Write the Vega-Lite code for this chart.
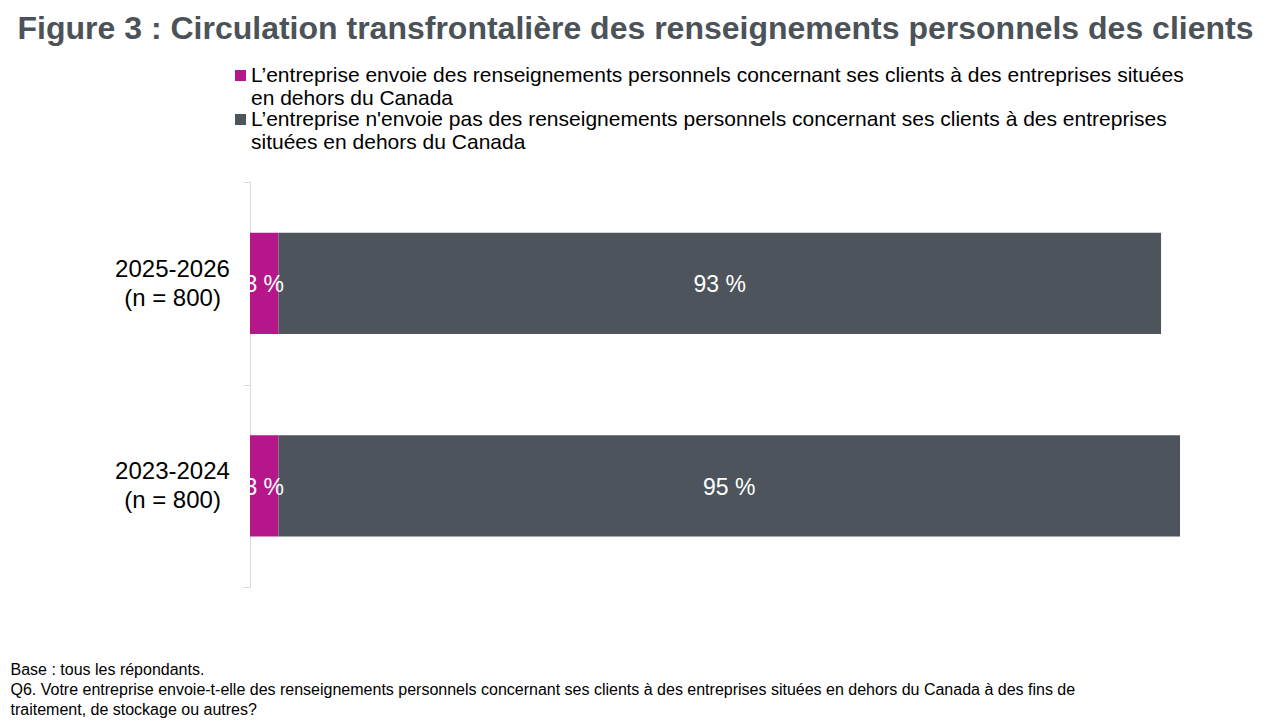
{
  "$schema": "https://vega.github.io/schema/vega-lite/v6.json",
  "width": 949,
  "height": 405,
  "autosize": "none",
  "padding": {"left": 250, "top": 182, "right": 81, "bottom": 133},
  "background": "white",
  "config": {"font": "Liberation Sans", "view": {"stroke": null}},
  "title": {
    "text": "Figure 3 : Circulation transfrontalière des renseignements personnels des clients",
    "font": "Liberation Sans",
    "fontSize": 32,
    "fontWeight": "bold",
    "color": "#4B5258",
    "anchor": "middle",
    "frame": "group",
    "baseline": "alphabetic",
    "dx": -89,
    "offset": -6
  },
  "data": {
    "values": [
      {"groupe": "2025-2026 (n = 800)", "reponse": "L’entreprise envoie des renseignements personnels concernant ses clients à des entreprises situées en dehors du Canada", "rang": 1, "pct": 3},
      {"groupe": "2025-2026 (n = 800)", "reponse": "L’entreprise n'envoie pas des renseignements personnels concernant ses clients à des entreprises situées en dehors du Canada", "rang": 2, "pct": 93},
      {"groupe": "2023-2024 (n = 800)", "reponse": "L’entreprise envoie des renseignements personnels concernant ses clients à des entreprises situées en dehors du Canada", "rang": 1, "pct": 3},
      {"groupe": "2023-2024 (n = 800)", "reponse": "L’entreprise n'envoie pas des renseignements personnels concernant ses clients à des entreprises situées en dehors du Canada", "rang": 2, "pct": 95}
    ]
  },
  "transform": [
    {"stack": "pct", "groupby": ["groupe"], "sort": [{"field": "rang", "order": "ascending"}], "as": ["debut", "fin"]}
  ],
  "encoding": {
    "y": {
      "field": "groupe",
      "type": "nominal",
      "sort": ["2025-2026 (n = 800)", "2023-2024 (n = 800)"],
      "scale": {"paddingInner": 0, "paddingOuter": 0},
      "axis": {
        "title": null,
        "domainColor": "#D9D9D9",
        "tickColor": "#D9D9D9",
        "tickSize": 7,
        "tickBand": "extent",
        "labelPadding": 71,
        "labelAlign": "center",
        "labelBaseline": "middle",
        "labelOffset": -14,
        "labelFontSize": 24,
        "labelLineHeight": 29,
        "labelColor": "#000000",
        "labelLimit": 400,
        "labelExpr": "[slice(datum.label, 0, 9), slice(datum.label, 10)]"
      }
    }
  },
  "layer": [
    {
      "mark": {"type": "bar", "height": {"band": 0.5}},
      "encoding": {
        "x": {
          "field": "debut",
          "type": "quantitative",
          "scale": {"domain": [0, 100]},
          "axis": {
            "domain": false,
            "ticks": false,
            "labels": false,
            "grid": false,
            "title": [
              "Base : tous les répondants.",
              "Q6. Votre entreprise envoie-t-elle des renseignements personnels concernant ses clients à des entreprises situées en dehors du Canada à des fins de",
              "traitement, de stockage ou autres?"
            ],
            "titleFontSize": 16,
            "titleFontWeight": "normal",
            "titleColor": "#000000",
            "titleAlign": "left",
            "titleAnchor": "start",
            "titleBaseline": "alphabetic",
            "titleX": -240,
            "titleY": 87,
            "titleLineHeight": 20
          }
        },
        "x2": {"field": "fin"},
        "color": {
          "field": "reponse",
          "type": "nominal",
          "scale": {
            "domain": [
              "L’entreprise envoie des renseignements personnels concernant ses clients à des entreprises situées en dehors du Canada",
              "L’entreprise n'envoie pas des renseignements personnels concernant ses clients à des entreprises situées en dehors du Canada"
            ],
            "range": ["#B5178A", "#4D545B"]
          },
          "legend": {
            "orient": "none",
            "legendX": -20,
            "legendY": -117,
            "direction": "vertical",
            "title": null,
            "padding": 0,
            "symbolType": "square",
            "symbolSize": 121,
            "symbolStrokeWidth": 0,
            "labelFontSize": 21,
            "labelLineHeight": 25,
            "labelColor": "#000000",
            "labelLimit": 1200,
            "labelOffset": 0,
            "rowPadding": -7,
            "labelExpr": "indexof(datum.label, 'envoie pas') >= 0 ? [slice(datum.label, 0, length(datum.label) - 28), slice(datum.label, length(datum.label) - 27)] : [slice(datum.label, 0, length(datum.label) - 20), slice(datum.label, length(datum.label) - 19)]"
          }
        },
        "order": {"field": "rang"}
      }
    },
    {
      "mark": {
        "type": "text",
        "color": "#FFFFFF",
        "fontSize": 23,
        "clip": true,
        "baseline": "middle",
        "align": "center",
        "dy": 2,
        "x": {"expr": "scale('x', (datum.debut + datum.fin) / 2)"},
        "text": {"expr": "datum.pct + ' %'"}
      },
      "encoding": {}
    }
  ]
}
